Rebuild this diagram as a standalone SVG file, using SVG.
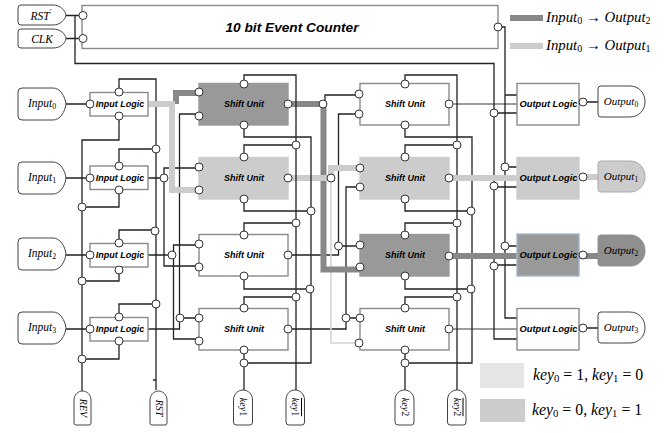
<svg xmlns="http://www.w3.org/2000/svg" width="667" height="433" viewBox="0 0 667 433">
<style>
.w{fill:none;stroke:#222;stroke-width:1.3}
.f{stroke-width:.9}
.d{fill:none;stroke:#888;stroke-width:6}
.l{fill:none;stroke:#ccc;stroke-width:6}
.t{fill:none;stroke:#d4d4d4;stroke-width:1.6}
.b{fill:#fff;stroke:#8a8a8a;stroke-width:1.4}
.gd{fill:#999;stroke:#999}
.gl{fill:#ccc;stroke:#ccc}
.s{fill:#fff;stroke:#444;stroke-width:1}
.gos{fill:#ccc;stroke:#aaa}
.dos{fill:#8f8f8f;stroke:#8f8f8f}
circle{fill:#fff;stroke:#333;stroke-width:1}
text{fill:#000;text-anchor:middle}
.h{font:italic bold 9px "Liberation Sans",Arial,sans-serif}
.o{font:italic bold 9.300px "Liberation Sans",Arial,sans-serif}
.m{font:italic 11.500px "Liberation Serif","Times New Roman",serif}
.n{font:italic 11px "Liberation Serif","Times New Roman",serif}
.v{font:italic 10px "Liberation Serif","Times New Roman",serif}
.e{font:italic 14.800px "Liberation Serif","Times New Roman",serif;text-anchor:start}
.k{font:italic 15.800px "Liberation Serif","Times New Roman",serif;text-anchor:start}
.u{font-style:normal;font-size:.68em}
.r{font-style:normal}
</style>
<g id="connectors">
<path class="w" d="M66 15.500H83M66 38.500H83M75 15.500V63.500H494V339H517M494 113H517M494 187H517M494 265H517"/>
<path class="w" d="M498 27H505V318H517M505 95H517M505 167H517M505 246H517"/>
<path class="w" d="M66 104H90M66 178H90M66 255H90M66 329H90"/>
<path class="w" d="M119 92V79H156V390M119 166V149H156M119 243V230H156M119 317V304H156M153 380H156"/>
<path class="w" d="M119 116V140H82V391M119 190V207H82M119 270V281H82M119 341V359H82"/>
<path class="w" d="M148 178H164M164 178V168H199M164 178V266H199M148 255H173M173.500 255V245H199M173.500 255V339H199M199 114H179.500V329H148M180 318H199"/>
<path class="w" d="M244 350V390"/>
<path class="w" d="M405 84V75H457V390M405 157V145H457M405 235V223H457M405 308V297H457M405 350V390M405 363H472V137H405V125M405 199V211H472M405 276V289H472"/>
<path class="w" d="M323 104H325V95H359M359 114H338.500V255H288M338.500 246H360M360 187H346V329H288M346 318H360"/>
<path class="w f" d="M449 104H517M449 329H517"/>
<path class="t" d="M331 178V343H359"/>
<path class="d" d="M176 104V93H199"/>
<path class="d" d="M288 104H323.500V269.500H360"/>
<path class="d" d="M449 256H517M579 256H598"/>
<path class="l" d="M148 104H172V190H199"/>
<path class="l" d="M288 178H331M331 178V168H360"/>
<path class="l" d="M449 178H517M583 177H598"/>
<path class="w" d="M244 84V75H296V390M244 157V145H296M244 235V223H296M244 308V297H296M244 363H311V137H244V125M244 199V211H311M244 276V289H311"/>
<path class="w" d="M583 102H598M583 328H598"/>
<circle cx="156" cy="149" r="4"/><circle cx="155" cy="231" r="4"/><circle cx="156" cy="304" r="4"/>
<circle cx="82" cy="207" r="4"/><circle cx="82" cy="281" r="4"/><circle cx="82" cy="359" r="4"/>
<circle cx="164" cy="178" r="4"/><circle cx="172" cy="255" r="4"/><circle cx="180" cy="318" r="4"/>
<circle cx="296" cy="145" r="4"/><circle cx="296" cy="223" r="4"/><circle cx="296" cy="297" r="4"/>
<circle cx="311" cy="211" r="4"/><circle cx="310" cy="289" r="4"/><circle cx="244" cy="363" r="4"/>
<circle cx="323" cy="104" r="4"/><circle cx="331" cy="178" r="4"/><circle cx="338.500" cy="246" r="4"/><circle cx="346" cy="318" r="4"/>
<circle cx="457" cy="145" r="4"/><circle cx="457" cy="223" r="4"/><circle cx="457" cy="297" r="4"/>
<circle cx="471" cy="211" r="4"/><circle cx="471" cy="289" r="4"/><circle cx="405" cy="363" r="4"/>
<circle cx="494" cy="113" r="4"/><circle cx="494" cy="186" r="4"/><circle cx="494" cy="266" r="4"/>
<circle cx="505" cy="167" r="4"/><circle cx="505" cy="246" r="4"/>
</g>
<g id="rst-in"><path class="s" d="M21 5H53C60 5 65 10 66 15C65 20 60 25 53 25H21Q18 25 18 22V8Q18 5 21 5Z"/><text class="m" x="41" y="20">RST<tspan class="u" dy="-5">′</tspan></text></g>
<g id="clk-in"><path class="s" d="M21 29H53C60 29 65 33 66 38.500C65 44 60 48 53 48H21Q18 48 18 45V32Q18 29 21 29Z"/><text class="m" x="42" y="43">CLK</text></g>
<g id="counter"><rect class="b" x="82" y="5.500" width="416" height="43"/><text x="292" y="32" style="font:italic bold 13.700px 'Liberation Sans',Arial,sans-serif">10 bit Event Counter</text><circle cx="83" cy="15.500" r="4"/><circle cx="83" cy="38.500" r="4"/><circle cx="498" cy="27" r="4"/></g>
<g id="input0"><path class="s" d="M22 88H53C60 88 65 96 66 104C65 112 60 120 53 120H22Q18 120 18 116V92Q18 88 22 88Z"/><text class="m" x="42" y="107">Input<tspan class="u" dy="2">0</tspan></text></g>
<g id="input1"><path class="s" d="M22 162H53C60 162 65 170 66 178C65 186 60 194 53 194H22Q18 194 18 190V166Q18 162 22 162Z"/><text class="m" x="42" y="181">Input<tspan class="u" dy="2">1</tspan></text></g>
<g id="input2"><path class="s" d="M22 238H53C60 238 65 246 66 254C65 262 60 270 53 270H22Q18 270 18 266V242Q18 238 22 238Z"/><text class="m" x="42" y="257">Input<tspan class="u" dy="2">2</tspan></text></g>
<g id="input3"><path class="s" d="M22 312H53C60 312 65 320 66 328C65 336 60 344 53 344H22Q18 344 18 340V316Q18 312 22 312Z"/><text class="m" x="42" y="331">Input<tspan class="u" dy="2">3</tspan></text></g>
<g id="il0"><rect class="b" x="90" y="92.500" width="58" height="23.500"/><text class="h" x="120" y="107">Input Logic</text><circle cx="90" cy="104" r="4"/><circle cx="119" cy="92" r="4"/><circle cx="119" cy="116" r="4"/></g>
<g id="il1"><rect class="b" x="90" y="166" width="58" height="23.500"/><text class="h" x="120" y="181">Input Logic</text><circle cx="90" cy="178" r="4"/><circle cx="119" cy="166" r="4"/><circle cx="119" cy="190" r="4"/></g>
<g id="il2"><rect class="b" x="90" y="243.500" width="58" height="23.500"/><text class="h" x="120" y="258">Input Logic</text><circle cx="90" cy="255" r="4"/><circle cx="119" cy="243" r="4"/><circle cx="119" cy="270" r="4"/></g>
<g id="il3"><rect class="b" x="90" y="317.500" width="58" height="23.500"/><text class="h" x="120" y="332">Input Logic</text><circle cx="90" cy="329" r="4"/><circle cx="119" cy="317" r="4"/><circle cx="119" cy="341" r="4"/></g>
<g id="su00"><rect class="b gd" x="199" y="83.500" width="89" height="41.500"/><text class="h" x="244" y="107">Shift Unit</text><circle cx="199" cy="92" r="4"/><circle cx="199" cy="116" r="4"/><circle cx="244" cy="84" r="4"/><circle cx="244" cy="125" r="4"/><circle cx="288" cy="104" r="4"/></g>
<g id="su01"><rect class="b gl" x="199" y="157.500" width="89" height="41.500"/><text class="h" x="244" y="181">Shift Unit</text><circle cx="199" cy="167" r="4"/><circle cx="199" cy="190" r="4"/><circle cx="244" cy="157" r="4"/><circle cx="244" cy="199" r="4"/><circle cx="288" cy="178" r="4"/></g>
<g id="su02"><rect class="b" x="199" y="234.500" width="89" height="41.500"/><text class="h" x="244" y="258">Shift Unit</text><circle cx="199" cy="244" r="4"/><circle cx="199" cy="267" r="4"/><circle cx="244" cy="235" r="4"/><circle cx="244" cy="276" r="4"/><circle cx="288" cy="255" r="4"/></g>
<g id="su03"><rect class="b" x="199" y="308.500" width="89" height="41.500"/><text class="h" x="244" y="332">Shift Unit</text><circle cx="199" cy="318" r="4"/><circle cx="199" cy="341" r="4"/><circle cx="244" cy="308" r="4"/><circle cx="244" cy="350" r="4"/><circle cx="288" cy="329" r="4"/></g>
<g id="su10"><rect class="b" x="360" y="83.500" width="89" height="41.500"/><text class="h" x="405" y="107">Shift Unit</text><circle cx="359" cy="94" r="4"/><circle cx="359" cy="114" r="4"/><circle cx="405" cy="84" r="4"/><circle cx="405" cy="125" r="4"/><circle cx="449" cy="104" r="4"/></g>
<g id="su11"><rect class="b gl" x="360" y="157.500" width="89" height="41.500"/><text class="h" x="405" y="181">Shift Unit</text><circle cx="360" cy="168" r="4"/><circle cx="360" cy="187" r="4"/><circle cx="405" cy="157" r="4"/><circle cx="405" cy="199" r="4"/><circle cx="449" cy="178" r="4"/></g>
<g id="su12"><rect class="b gd" x="360" y="234.500" width="89" height="41.500"/><text class="h" x="405" y="258">Shift Unit</text><circle cx="360" cy="245" r="4"/><circle cx="360" cy="267" r="4"/><circle cx="405" cy="235" r="4"/><circle cx="405" cy="276" r="4"/><circle cx="449" cy="256" r="4"/></g>
<g id="su13"><rect class="b" x="360" y="308.500" width="89" height="41.500"/><text class="h" x="405" y="332">Shift Unit</text><circle cx="360" cy="318" r="4"/><circle cx="359" cy="343" r="4"/><circle cx="405" cy="308" r="4"/><circle cx="405" cy="350" r="4"/><circle cx="449" cy="329" r="4"/></g>
<g id="ol0"><rect class="b" x="517" y="83.500" width="62" height="41.500"/><text class="o" x="548.500" y="107">Output Logic</text><circle cx="583" cy="102" r="4"/></g>
<g id="ol1"><rect class="b gl" x="517" y="157.500" width="62" height="41.500"/><text class="o" x="548.500" y="181">Output Logic</text><circle cx="583" cy="177" r="4"/></g>
<g id="ol2"><rect class="b gd" x="517" y="234" width="62" height="42" style="stroke:#a3b6cf"/><text class="o" x="548.500" y="258">Output Logic</text><circle cx="583" cy="255" r="4"/></g>
<g id="ol3"><rect class="b" x="517" y="308.500" width="62" height="41.500"/><text class="o" x="548.500" y="332">Output Logic</text><circle cx="583" cy="328" r="4"/></g>
<g id="output0"><path class="s" d="M601 86H630C639 86 645 93 645 102C645 110 639 117 630 117H601Q598 117 598 114V89Q598 86 601 86Z"/><text class="n" x="621" y="105">Output<tspan class="u" dy="2">0</tspan></text></g>
<g id="output1"><path class="s gos" d="M601 161H630C639 161 645 168 645 177C645 185 639 192 630 192H601Q598 192 598 189V164Q598 161 601 161Z"/><text class="n" x="621" y="180">Output<tspan class="u" dy="2">1</tspan></text></g>
<g id="output2"><path class="s dos" d="M601 235H630C639 235 645 242 645 251C645 259 639 266 630 266H601Q598 266 598 263V238Q598 235 601 235Z"/><text class="n" x="621" y="254">Output<tspan class="u" dy="2">2</tspan></text></g>
<g id="output3"><path class="s" d="M601 312H630C639 312 645 319 645 328C645 336 639 343 630 343H601Q598 343 598 340V315Q598 312 601 312Z"/><text class="n" x="621" y="331">Output<tspan class="u" dy="2">3</tspan></text></g>
<g id="rev"><path class="s" d="M74 423V400C74 395 78 391 82.500 391C87 391 91 395 91 400V423Q91 425 89 425H76Q74 425 74 423Z"/><text class="v" transform="translate(79.500 408) rotate(90)">REV</text></g>
<g id="rst"><path class="s" d="M150 423V400C150 395 154 391 158.500 391C163 391 167 395 167 400V423Q167 425 165 425H152Q150 425 150 423Z"/><text class="v" transform="translate(155.500 408) rotate(90)">RST</text></g>
<g id="key1"><path class="s" d="M233.500 422V400C233.500 394 238 390 243 390C248 390 252.500 394 252.500 400V422Q252.500 425 250 425H236Q233.500 425 233.500 422Z"/><text class="v" transform="translate(240 407) rotate(90)">key<tspan class="r">1</tspan></text></g>
<g id="key1bar"><path class="s" d="M286 422V400C286 394 290 390 295 390C300 390 304.500 394 304.500 400V422Q304.500 425 302 425H289Q286 425 286 422Z"/><text class="v" transform="translate(292 407) rotate(90)" text-decoration="overline">key<tspan class="r">1</tspan></text></g>
<g id="key2"><path class="s" d="M395 422V400C395 394 399.500 390 404.500 390C409.500 390 414 394 414 400V422Q414 425 411.500 425H398Q395 425 395 422Z"/><text class="v" transform="translate(401.500 407) rotate(90)">key<tspan class="r">2</tspan></text></g>
<g id="key2bar"><path class="s" d="M447.500 422V400C447.500 394 452 390 457 390C462 390 466 394 466 400V422Q466 425 463.500 425H450Q447.500 425 447.500 422Z"/><text class="v" transform="translate(453.500 407) rotate(90)" text-decoration="overline">key<tspan class="r">2</tspan></text></g>
<g id="legend">
<rect x="510" y="15" width="33" height="6" fill="#888"/><text class="e" x="546" y="22">Input<tspan class="u" dy="2">0</tspan><tspan class="r" dy="-2"> → </tspan>Output<tspan class="u" dy="2">2</tspan></text>
<rect x="510" y="43" width="33" height="6" fill="#ccc"/><text class="e" x="546" y="50">Input<tspan class="u" dy="2">0</tspan><tspan class="r" dy="-2"> → </tspan>Output<tspan class="u" dy="2">1</tspan></text>
<rect x="480" y="363" width="44" height="25" fill="#e5e5e5"/><text class="k" x="533" y="380">key<tspan class="u" dy="2">0</tspan><tspan class="r" dy="-2"> = 1, </tspan>key<tspan class="u" dy="2">1</tspan><tspan class="r" dy="-2"> = 0</tspan></text>
<rect x="480" y="399" width="45" height="23" fill="#ccc"/><text class="k" x="532" y="415">key<tspan class="u" dy="2">0</tspan><tspan class="r" dy="-2"> = 0, </tspan>key<tspan class="u" dy="2">1</tspan><tspan class="r" dy="-2"> = 1</tspan></text>
</g>
</svg>
